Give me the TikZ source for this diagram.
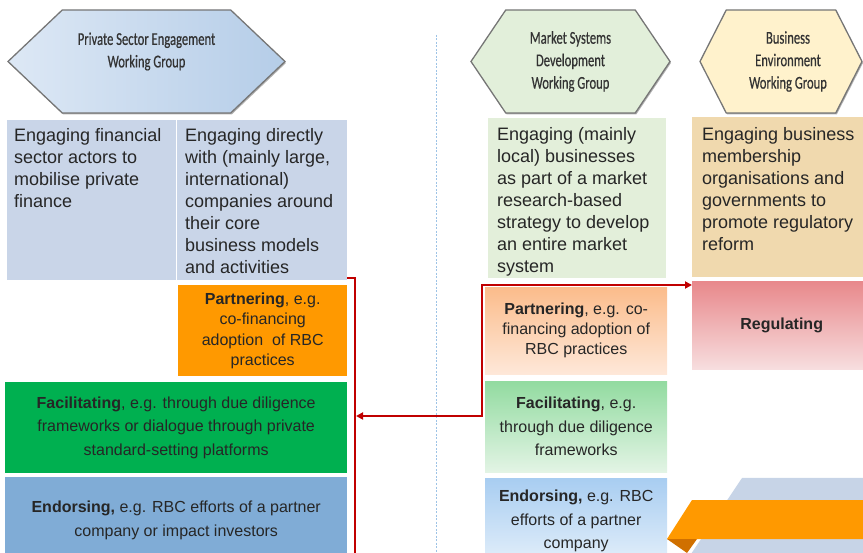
\documentclass[tikz,border=0pt]{standalone}
\usepackage{fontspec}
\setmainfont{Liberation Sans}
\newfontfamily\hexfont[FakeStretch=0.7, FakeBold=0.5]{Carlito}
\usetikzlibrary{shapes.symbols, arrows.meta, positioning, shadows, calc}
\definecolor{pseL}{HTML}{DDE8F5}
\definecolor{pseR}{HTML}{B5CDE8}
\definecolor{msdfill}{HTML}{E2EFDA}
\definecolor{befill}{HTML}{FFF2CC}
\definecolor{hexline}{HTML}{767676}
\definecolor{hextext}{HTML}{333333}
\definecolor{bodytext}{HTML}{262626}
\definecolor{tabblue}{HTML}{C9D5E8}
\definecolor{tabgreen}{HTML}{E3EFDA}
\definecolor{tabtan}{HTML}{F0D9AE}
\definecolor{modeorange}{HTML}{FF9900}
\definecolor{modegreen}{HTML}{00B050}
\definecolor{modesteel}{HTML}{80ACD6}
\definecolor{partTop}{HTML}{FBBC8B}
\definecolor{partBot}{HTML}{FEE8D9}
\definecolor{facTop}{HTML}{92DBA0}
\definecolor{facBot}{HTML}{E3F4E5}
\definecolor{endTop}{HTML}{A8CDF1}
\definecolor{endBot}{HTML}{E3EFFA}
\definecolor{regTop}{HTML}{E8888B}
\definecolor{regBot}{HTML}{F7DEDF}
\definecolor{wirered}{HTML}{C00000}
\definecolor{divblue}{HTML}{9DC3E6}
\definecolor{ribbongray}{HTML}{C7D4E7}
\definecolor{ribbonorange}{HTML}{FF9900}
\definecolor{ribbonfold}{HTML}{D07000}

\begin{document}
\begin{tikzpicture}[
    x=1pt, y=-1pt,
    >={Triangle[length=7pt,width=7pt]},
    % 1. working group hexagons
    hexa/.style={
        signal, signal to=west and east,
        draw=hexline, line width=1.3pt,
        inner sep=0pt,
        minimum height=103pt,
        drop shadow={shadow xshift=1pt, shadow yshift=-1.5pt, fill=black, opacity=0.3}
    },
    hexlabel/.style={
        align=center, inner sep=0pt,
        text=hextext,
        font=\hexfont\fontsize{18}{22.5}\selectfont
    },
    % 2. description panels, text set top-left
    panel/.style={rectangle, draw=none, inner sep=0pt, anchor=north west},
    paneltext/.style={
        anchor=north west, inner sep=0pt, align=left,
        text=bodytext, font=\fontsize{18}{22}\selectfont
    },
    % 3. engagement modes
    mode/.style={
        rectangle, draw=none, inner sep=0pt, anchor=north west,
        align=center, text=bodytext
    },
    % connectors
    redwire/.style={draw=wirered, line width=2pt},
    divider/.style={draw=divblue, line width=1pt, dash pattern=on 2pt off 1.5pt}
]
    \clip (0,0) rectangle (863,553);

    % --- 1. Hexagon headers ---
    \node[hexa, left color=pseL, right color=pseR, minimum width=277pt,
          signal pointer angle=87,
          label={[hexlabel, yshift=10pt]center:Private Sector Engagement\\Working Group}]
          (pse) at (146.5,61.5) {};
    \node[hexa, fill=msdfill, minimum width=199pt, signal pointer angle=112,
          label={[hexlabel]center:Market Systems\\Development\\Working Group}]
          (msd) at (570.5,61.5) {};
    \node[hexa, fill=befill, minimum width=162pt, signal pointer angle=126,
          label={[hexlabel, xshift=7pt]center:Business\\Environment\\Working Group}]
          (be) at (781,61.5) {};

    % --- 2. Description panels ---
    \node[panel, fill=tabblue, minimum width=169pt, minimum height=160pt] (fin) at (7,120) {};
    \node[paneltext] (finTxt) at ($(fin.north west)+(7,8.5)$)
        {Engaging financial\\sector actors to\\mobilise private\\finance};

    \node[panel, fill=tabblue, minimum width=170pt, minimum height=160pt] (ent) at (177,120) {};
    \node[paneltext] (entTxt) at ($(ent.north west)+(8,8.5)$)
        {Engaging directly\\with (mainly large,\\international)\\companies around\\their core\\business models\\and activities};

    \node[panel, fill=tabgreen, minimum width=178pt, minimum height=160pt] (mkt) at (488,118) {};
    \node[paneltext] (mktTxt) at ($(mkt.north west)+(9,9)$)
        {Engaging (mainly\\local) businesses\\as part of a market\\research-based\\strategy to develop\\an entire market\\system};

    \node[panel, fill=tabtan, minimum width=180pt, minimum height=160pt] (env) at (692,117) {};
    \node[paneltext] (envTxt) at ($(env.north west)+(10,10)$)
        {Engaging business\\membership\\organisations and\\governments to\\promote regulatory\\reform};

    % --- 3. Engagement modes, private sector side ---
    \node[mode, fill=modeorange, minimum width=169pt, minimum height=91pt,
          font=\fontsize{16}{20.5}\selectfont] (partL) at (178,285)
        {\textbf{Partnering}, e.g.\\co-financing\\adoption~ of RBC\\practices};
    \node[mode, fill=modegreen, minimum width=342pt, minimum height=91pt,
          font=\fontsize{16}{23.5}\selectfont] (facL) at (5,382)
        {\textbf{Facilitating}, e.g. through due diligence\\frameworks or dialogue through private\\standard-setting platforms};
    \node[mode, fill=modesteel, minimum width=342pt, minimum height=86pt,
          font=\fontsize{16}{24}\selectfont] (endL) at (5,477)
        {\textbf{Endorsing,} e.g. RBC efforts of a partner\\company or impact investors};

    % --- 4. Engagement modes, market systems / business environment side ---
    \node[mode, top color=partTop, bottom color=partBot, minimum width=182pt, minimum height=87pt,
          font=\fontsize{16}{20}\selectfont] (partR) at (485,287)
        {\textbf{Partnering}, e.g. co-\\financing adoption of\\RBC practices};
    \node[mode, top color=facTop, bottom color=facBot, minimum width=182pt, minimum height=91pt,
          font=\fontsize{16}{23.5}\selectfont] (facR) at (485,381)
        {\textbf{Facilitating}, e.g.\\through due diligence\\frameworks};
    \node[mode, top color=endTop, bottom color=endBot, minimum width=182pt, minimum height=86pt,
          font=\fontsize{16}{23.5}\selectfont] (endR) at (485,478)
        {\textbf{Endorsing,} e.g. RBC\\efforts of a partner\\company};
    \node[mode, top color=regTop, bottom color=regBot, minimum width=179pt, minimum height=88pt,
          font=\fontsize{16}{20}\selectfont] (reg) at (692,281)
        {\textbf{Regulating}};

    % --- 5. Ribbon, bottom right ---
    \fill[ribbongray] (742,478) -- (880,478) -- (880,560) -- (687,560) -- cycle;
    \fill[ribbonorange] (692,500) -- (880,500) -- (880,539) -- (667,539) -- cycle;
    \fill[ribbonfold] (667,539) -- (697,539) -- (687,553) -- cycle;

    % --- 6. Divider and red connectors ---
    \coordinate (divTop) at (436,35);
    \coordinate (divBot) at (436,553);
    \draw[divider] (divTop) -- (divBot);

    \coordinate (brkBot) at (355,560);
    \coordinate (brkArr) at (356,416);
    \draw[redwire] ([yshift=2pt]ent.south east) -| (brkBot);
    \draw[redwire, <->] (brkArr) -| ($(partR.north west)+(-3,-2)$)
        -- ([yshift=-4pt]reg.north west);

\end{tikzpicture}
\end{document}
